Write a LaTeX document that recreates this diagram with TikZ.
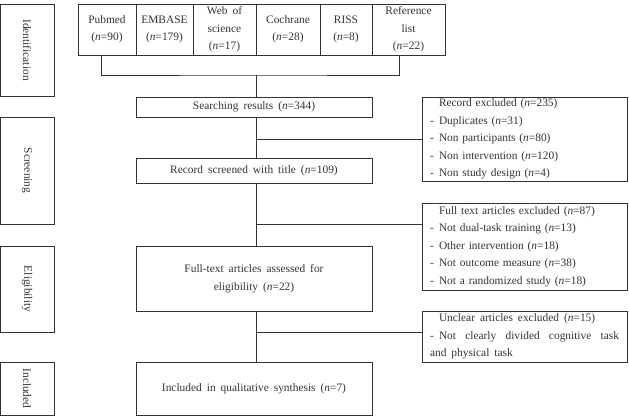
\documentclass[tikz,border=0pt]{standalone}
\usepackage{fontspec}
\setmainfont{Liberation Serif}[WordSpace=1.75]
\usetikzlibrary{positioning,calc}
\definecolor{ink}{HTML}{333333}
\newcommand{\nn}{\textit{n}}
\newcommand{\dashitem}{\makebox[9pt][l]{-}}

\begin{document}
\begin{tikzpicture}[x=1pt,y=-1pt,font=\fontsize{11.4}{17.5}\selectfont,
  every node/.style={text=ink},
  box/.style={draw=ink,line width=0.6pt,inner sep=0pt,align=center},
  phase/.style={box,rotate=-90,minimum height=54pt},
  src/.style={box,minimum height=51pt},
  main/.style={box,minimum width=236pt},
  excl/.style={box,minimum width=205pt,text width=189pt,inner xsep=8pt,align=left},
  link/.style={draw=ink,line width=0.6pt}]
\useasboundingbox (0,0) rectangle (629,420);

% phases
\node[phase,minimum width=92pt]  (ident) at (27,50)    {Identification};
\node[phase,minimum width=107pt] (scr)   at (27,170.5) {Screening};
\node[phase,minimum width=86pt]  (elig)  at (27,289)   {Eligibility};
\node[phase,minimum width=53pt]  (incl)  at (27,388.5) {Included};

% databases
\node[src,minimum width=58pt] (pubmed) at (107,29.5)   {Pubmed\\(\nn=90)};
\node[src,minimum width=57pt] (embase) at (164.5,29.5) {EMBASE\\(\nn=179)};
\node[src,minimum width=63pt] (wos)    at (224.5,29.5) {Web of\\science\\(\nn=17)};
\node[src,minimum width=64pt] (coch)   at (288,29.5)   {Cochrane\\(\nn=28)};
\node[src,minimum width=52pt] (riss)   at (346,29.5)   {RISS\\(\nn=8)};
\node[src,minimum width=73pt] (refl)   at (408.5,29.5) {Reference\\list\\(\nn=22)};

% main flow
\node[main,minimum height=20pt] (search)  at (254,107)   {Searching results (\nn=344)};
\node[main,minimum height=25pt] (screen)  at (254,170.5) {Record screened with title (\nn=109)};
\node[main,minimum height=65pt] (full)    at (254,278.5) {Full-text articles assessed for\\eligibility (\nn=22)};
\node[main,minimum height=53pt] (synth)   at (254,388.5) {Included in qualitative synthesis (\nn=7)};

% exclusions
\node[excl,minimum height=84pt] (exA) at (524.5,139) {%
  \hspace*{9pt}Record excluded (\nn=235)\\
  \dashitem Duplicates (\nn=31)\\
  \dashitem Non participants (\nn=80)\\
  \dashitem Non intervention (\nn=120)\\
  \dashitem Non study design (\nn=4)};
\node[excl,minimum height=87pt] (exB) at (524.5,246.5) {%
  \hspace*{9pt}Full text articles excluded (\nn=87)\\
  \dashitem Not dual-task training (\nn=13)\\
  \dashitem Other intervention (\nn=18)\\
  \dashitem Not outcome measure (\nn=38)\\
  \dashitem Not a randomized study (\nn=18)};
\node[excl,minimum height=51pt,align=justify] (exC) at (524.5,336.5) {%
  \hspace*{9pt}Unclear articles excluded (\nn=15)\par
  \hangindent=9pt\hangafter=1\dashitem Not clearly divided cognitive task\linebreak
  and physical task};

% connectors
\coordinate (join) at (256,75);
\draw[link] ([xshift=-6pt]pubmed.south) |- (join) -| ([xshift=-9pt]refl.south);
\draw[link] (join) -- (join |- search.north);
\draw[link] (join |- search.south) -- (join |- screen.north);
\draw[link] (join |- screen.south) -- (join |- full.north);
\draw[link] (join |- full.south) -- (join |- synth.north);
\coordinate (brA) at (256,139);
\coordinate (brB) at (256,224);
\coordinate (brC) at (256,332);
\draw[link] (brA) -- (brA -| exA.west);
\draw[link] (brB) -- (brB -| exB.west);
\draw[link] (brC) -- (brC -| exC.west);
\end{tikzpicture}
\end{document}
